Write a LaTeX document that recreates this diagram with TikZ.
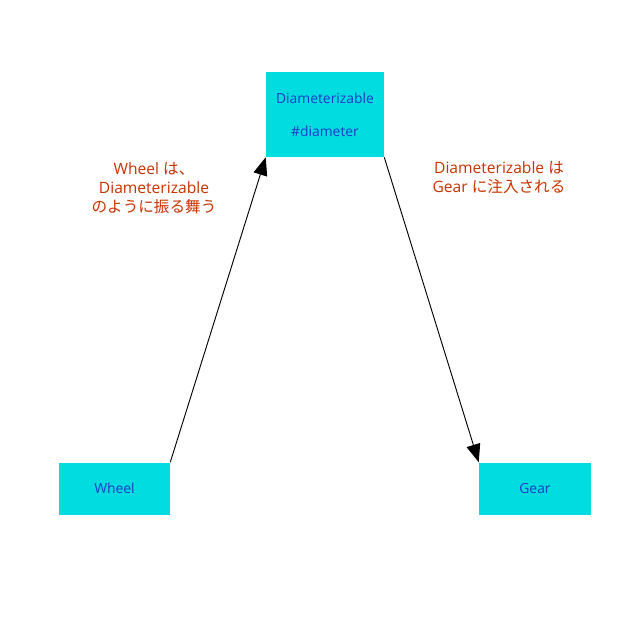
\documentclass[tikz,border=0pt]{standalone}
\usepackage{fontspec}
\setmainfont{Open Sans}
\newfontfamily\jp{Noto Sans CJK JP}
\usetikzlibrary{arrows.meta}
\definecolor{boxcyan}{RGB}{0,220,224}
\definecolor{boxtext}{RGB}{30,60,200}
\definecolor{notered}{RGB}{200,50,0}
\begin{document}
\begin{tikzpicture}
  [x=0.75pt,y=-0.75pt,every node/.style={fill=boxcyan,text=boxtext,inner sep=0pt}]
  \tikzstyle{note} = [fill=none,text=notered,align=center,font=\fontsize{11.7pt}{14.25pt}\selectfont]
  \tikzstyle{link} = [draw=black,line width=0.7pt,-{Triangle[length=13.5pt,width=10.5pt]}]
  \useasboundingbox (0,0) rectangle (640,640);
  \node (diam) at (325,114.5) [minimum width=88.5pt,minimum height=63.75pt,align=center,
    font=\fontsize{10.4pt}{24.75pt}\selectfont] {Diameterizable\\\#diameter};
  \node (wheel) at (114.5,488.5) [minimum width=83.25pt,minimum height=39pt,font=\fontsize{10.4pt}{12pt}\selectfont] {Wheel};
  \node (gear) at (535,488.5) [minimum width=84pt,minimum height=39pt,font=\fontsize{10.4pt}{12pt}\selectfont] {Gear};
  \node[note] (wheelnote) at (154,188) {Wheel {\jp は、}\\Diameterizable\\{\jp のように振る舞う}};
  \node[note] (gearnote) at (499,178) {Diameterizable {\jp は}\\Gear {\jp に注入される}};
\foreach \source /\dest in {wheel.north east/diam.south west,diam.south east/gear.north west}
   \draw[link] (\source) -- (\dest);
\end{tikzpicture}
\end{document}
